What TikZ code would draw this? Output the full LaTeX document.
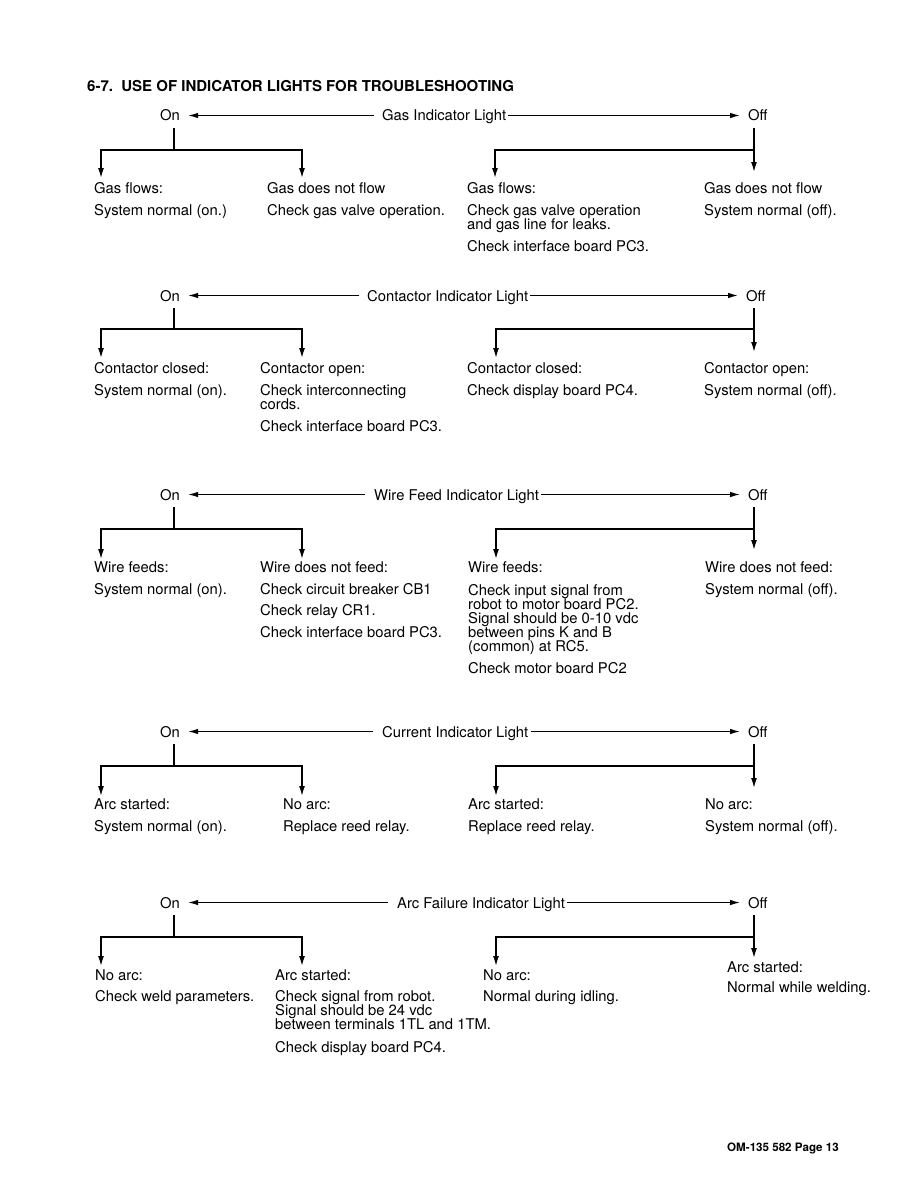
\documentclass[tikz,border=0pt]{standalone}
\usepackage{fontspec}
\setmainfont{TeX Gyre Heros}
\usetikzlibrary{arrows.meta}
\tikzset{
  txt/.style={anchor=base west, inner sep=0pt, font=\fontsize{14.8}{14}\selectfont},
  ttl/.style={anchor=base west, inner sep=0pt, font=\fontsize{15}{14}\selectfont\bfseries},
  foot/.style={anchor=base west, inner sep=0pt, font=\fontsize{11.6}{12}\selectfont\bfseries},
  harr/.style={line width=1.1pt, -{Latex[length=10pt,width=5.5pt]}},
  tarr/.style={line width=1.4pt, -{Latex[length=10pt,width=6pt]}}
}
\begin{document}
\begin{tikzpicture}[x=1pt,y=1pt]
\useasboundingbox (0,0) rectangle (918,-1188);
\fill[white] (0,0) rectangle (918,-1188);

\node[ttl] (title) at (87,-91.5) {6-7.\ \ USE OF INDICATOR LIGHTS FOR TROUBLESHOOTING};

% ---------------- Block 1: Gas ----------------
\node[txt] (on1) at (160,-121) {On};
\node[txt] (lb1) at (382,-121) {Gas Indicator Light};
\node[txt] (off1) at (748,-121) {Off};
\draw[harr] ([xshift=-8pt,yshift=5.5pt]lb1.base west) -- ([xshift=8pt,yshift=5.5pt]on1.base east);
\draw[harr] ([xshift=2pt,yshift=5.5pt]lb1.base east) -- ([xshift=-8pt,yshift=5.5pt]off1.base west);
\node[txt] (a11) at (94,-193) {Gas flows:};
\node[txt] (a11b) at (94,-215) {System normal (on.)};
\node[txt] (a12) at (267,-193) {Gas does not flow};
\node[txt] (a12b) at (267,-215) {Check gas valve operation.};
\node[txt] (a13) at (467,-193) {Gas flows:};
\node[txt] (a13b) at (467,-215) {Check gas valve operation};
\node[txt] (a13c) at (467,-229) {and gas line for leaks.};
\node[txt] (a13d) at (467,-251) {Check interface board PC3.};
\node[txt] (a14) at (704,-193) {Gas does not flow};
\node[txt] (a14b) at (704,-215) {System normal (off).};
\draw[tarr] ([xshift=14pt,yshift=-7pt]on1.base west) -- ++(0,-22) -| ([xshift=7pt,yshift=15pt]a11.base west);
\draw[tarr] ([xshift=14pt,yshift=-29pt]on1.base west) -| ([xshift=35pt,yshift=15pt]a12.base west);
\draw[tarr] ([xshift=6pt,yshift=-7pt]off1.base west) -- ([xshift=50pt,yshift=21pt]a14.base west);
\draw[tarr] ([xshift=6pt,yshift=-29pt]off1.base west) -| ([xshift=28pt,yshift=15pt]a13.base west);

% ---------------- Block 2: Contactor ----------------
\node[txt] (on2) at (160,-301) {On};
\node[txt] (lb2) at (367,-301) {Contactor Indicator Light};
\node[txt] (off2) at (746,-301) {Off};
\draw[harr] ([xshift=-8pt,yshift=5.5pt]lb2.base west) -- ([xshift=8pt,yshift=5.5pt]on2.base east);
\draw[harr] ([xshift=2pt,yshift=5.5pt]lb2.base east) -- ([xshift=-8pt,yshift=5.5pt]off2.base west);
\node[txt] (b11) at (94,-373) {Contactor closed:};
\node[txt] (b11b) at (94,-395) {System normal (on).};
\node[txt] (b12) at (260,-373) {Contactor open:};
\node[txt] (b12b) at (260,-395) {Check interconnecting};
\node[txt] (b12c) at (260,-409) {cords.};
\node[txt] (b12d) at (260,-431) {Check interface board PC3.};
\node[txt] (b13) at (467,-373) {Contactor closed:};
\node[txt] (b13b) at (467,-395) {Check display board PC4.};
\node[txt] (b14) at (704,-373) {Contactor open:};
\node[txt] (b14b) at (704,-395) {System normal (off).};
\draw[tarr] ([xshift=14pt,yshift=-7pt]on2.base west) -- ++(0,-21) -| ([xshift=7pt,yshift=15pt]b11.base west);
\draw[tarr] ([xshift=14pt,yshift=-28pt]on2.base west) -| ([xshift=42pt,yshift=15pt]b12.base west);
\draw[tarr] ([xshift=8pt,yshift=-7pt]off2.base west) -- ([xshift=50pt,yshift=21pt]b14.base west);
\draw[tarr] ([xshift=8pt,yshift=-28pt]off2.base west) -| ([xshift=29pt,yshift=15pt]b13.base west);

% ---------------- Block 3: Wire Feed ----------------
\node[txt] (on3) at (160,-500) {On};
\node[txt] (lb3) at (374,-500) {Wire Feed Indicator Light};
\node[txt] (off3) at (748,-500) {Off};
\draw[harr] ([xshift=-9pt,yshift=5.5pt]lb3.base west) -- ([xshift=8pt,yshift=5.5pt]on3.base east);
\draw[harr] ([xshift=2pt,yshift=5.5pt]lb3.base east) -- ([xshift=-8pt,yshift=5.5pt]off3.base west);
\node[txt] (c11) at (94,-572) {Wire feeds:};
\node[txt] (c11b) at (94,-594) {System normal (on).};
\node[txt] (c12) at (260,-572) {Wire does not feed:};
\node[txt] (c12b) at (260,-594) {Check circuit breaker CB1};
\node[txt] (c12c) at (260,-615) {Check relay CR1.};
\node[txt] (c12d) at (260,-637) {Check interface board PC3.};
\node[txt] (c13) at (468,-572) {Wire feeds:};
\node[txt] (c13b) at (468,-595) {Check input signal from};
\node[txt] (c13c) at (468,-609) {robot to motor board PC2.};
\node[txt] (c13d) at (468,-623) {Signal should be 0-10 vdc};
\node[txt] (c13e) at (468,-637) {between pins K and B};
\node[txt] (c13f) at (468,-651) {(common) at RC5.};
\node[txt] (c13g) at (468,-673) {Check motor board PC2};
\node[txt] (c14) at (705,-572) {Wire does not feed:};
\node[txt] (c14b) at (705,-594) {System normal (off).};
\draw[tarr] ([xshift=14pt,yshift=-7pt]on3.base west) -- ++(0,-22) -| ([xshift=7pt,yshift=13pt]c11.base west);
\draw[tarr] ([xshift=14pt,yshift=-29pt]on3.base west) -| ([xshift=42pt,yshift=13pt]c12.base west);
\draw[tarr] ([xshift=6pt,yshift=-7pt]off3.base west) -- ([xshift=49pt,yshift=22pt]c14.base west);
\draw[tarr] ([xshift=6pt,yshift=-29pt]off3.base west) -| ([xshift=28pt,yshift=13pt]c13.base west);

% ---------------- Block 4: Current ----------------
\node[txt] (on4) at (160,-737) {On};
\node[txt] (lb4) at (382,-737) {Current Indicator Light};
\node[txt] (off4) at (748,-737) {Off};
\draw[harr] ([xshift=-9pt,yshift=5.5pt]lb4.base west) -- ([xshift=8pt,yshift=5.5pt]on4.base east);
\draw[harr] ([xshift=2pt,yshift=5.5pt]lb4.base east) -- ([xshift=-8pt,yshift=5.5pt]off4.base west);
\node[txt] (d11) at (94,-809) {Arc started:};
\node[txt] (d11b) at (94,-831) {System normal (on).};
\node[txt] (d12) at (283,-809) {No arc:};
\node[txt] (d12b) at (283,-831) {Replace reed relay.};
\node[txt] (d13) at (468,-809) {Arc started:};
\node[txt] (d13b) at (468,-831) {Replace reed relay.};
\node[txt] (d14) at (705,-809) {No arc:};
\node[txt] (d14b) at (705,-831) {System normal (off).};
\draw[tarr] ([xshift=14pt,yshift=-7pt]on4.base west) -- ++(0,-22) -| ([xshift=7pt,yshift=13pt]d11.base west);
\draw[tarr] ([xshift=14pt,yshift=-29pt]on4.base west) -| ([xshift=19pt,yshift=13pt]d12.base west);
\draw[tarr] ([xshift=6pt,yshift=-7pt]off4.base west) -- ([xshift=49pt,yshift=21pt]d14.base west);
\draw[tarr] ([xshift=6pt,yshift=-29pt]off4.base west) -| ([xshift=28pt,yshift=13pt]d13.base west);

% ---------------- Block 5: Arc Failure ----------------
\node[txt] (on5) at (160,-908) {On};
\node[txt] (lb5) at (397,-908) {Arc Failure Indicator Light};
\node[txt] (off5) at (748,-908) {Off};
\draw[harr] ([xshift=-9pt,yshift=5.5pt]lb5.base west) -- ([xshift=8pt,yshift=5.5pt]on5.base east);
\draw[harr] ([xshift=2pt,yshift=5.5pt]lb5.base east) -- ([xshift=-8pt,yshift=5.5pt]off5.base west);
\node[txt] (e11) at (95,-980) {No arc:};
\node[txt] (e11b) at (95,-1001) {Check weld parameters.};
\node[txt] (e12) at (275,-980) {Arc started:};
\node[txt] (e12b) at (275,-1001) {Check signal from robot.};
\node[txt] (e12c) at (275,-1015) {Signal should be 24 vdc};
\node[txt] (e12d) at (275,-1029) {between terminals 1TL and 1TM.};
\node[txt] (e12e) at (275,-1052) {Check display board PC4.};
\node[txt] (e13) at (483,-980) {No arc:};
\node[txt] (e13b) at (483,-1001) {Normal during idling.};
\node[txt] (e14) at (727,-972) {Arc started:};
\node[txt] (e14b) at (727,-992) {Normal while welding.};
\draw[tarr] ([xshift=14pt,yshift=-7pt]on5.base west) -- ++(0,-22) -| ([xshift=6pt,yshift=14pt]e11.base west);
\draw[tarr] ([xshift=14pt,yshift=-29pt]on5.base west) -| ([xshift=27pt,yshift=14pt]e12.base west);
\draw[tarr] ([xshift=6pt,yshift=-7pt]off5.base west) -- ([xshift=27pt,yshift=14pt]e14.base west);
\draw[tarr] ([xshift=6pt,yshift=-29pt]off5.base west) -| ([xshift=13pt,yshift=14pt]e13.base west);

\node[foot] (footer) at (727,-1151) {OM-135 582 Page 13};
\end{tikzpicture}
\end{document}
